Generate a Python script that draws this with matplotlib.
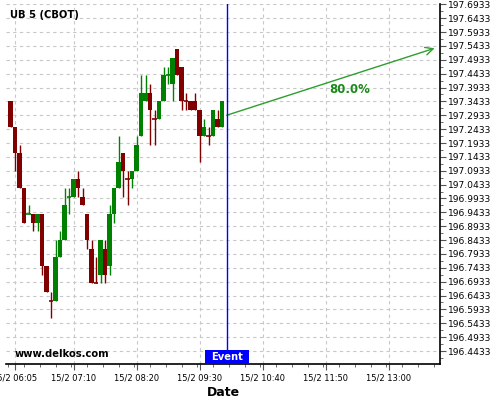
import matplotlib
matplotlib.use("Agg")
import matplotlib.pyplot as plt
import matplotlib.dates as mdates
from matplotlib.patches import Rectangle
import pandas as pd

# 5 minute candles, 15/2 06:00 .. 09:55
times = pd.date_range("2024-02-15 06:00", periods=48, freq="5min")
opens = [197.34375, 197.25, 197.15625, 197.03125, 196.9375, 196.9375, 196.90625, 196.9375,
         196.75, 196.625, 196.625, 196.78125, 196.84375, 197.0, 197.0, 197.0625,
         197.0, 196.9375, 196.8125, 196.6875, 196.71875, 196.8125, 196.75, 196.9375,
         197.03125, 197.15625, 197.0625, 197.0625, 197.09375, 197.21875, 197.34375, 197.375,
         197.28125, 197.28125, 197.34375, 197.4375, 197.40625, 197.53125, 197.46875, 197.34375,
         197.34375, 197.34375, 197.3125, 197.21875, 197.21875, 197.21875, 197.28125, 197.25]
highs = [197.34375, 197.25, 197.1875, 197.03125, 196.96875, 196.9375, 196.9375, 196.9375,
         196.75, 196.65625, 196.84375, 196.875, 197.03125, 197.03125, 197.0625, 197.09375,
         197.03125, 196.9375, 196.84375, 196.78125, 196.84375, 196.84375, 196.96875, 197.03125,
         197.21875, 197.15625, 197.09375, 197.09375, 197.21875, 197.4375, 197.4375, 197.40625,
         197.3125, 197.34375, 197.46875, 197.46875, 197.5, 197.53125, 197.46875, 197.375,
         197.34375, 197.375, 197.3125, 197.28125, 197.25, 197.3125, 197.3125, 197.34375]
lows = [197.25, 197.09375, 197.03125, 196.90625, 196.9375, 196.875, 196.875, 196.71875,
        196.65625, 196.5625, 196.625, 196.78125, 196.84375, 196.9375, 197.0, 197.0,
        196.96875, 196.8125, 196.6875, 196.6875, 196.6875, 196.6875, 196.71875, 196.90625,
        197.03125, 197.0, 196.96875, 197.03125, 197.09375, 197.21875, 197.34375, 197.1875,
        197.1875, 197.28125, 197.34375, 197.40625, 197.34375, 197.4375, 197.3125, 197.3125,
        197.3125, 197.3125, 197.125, 197.21875, 197.1875, 197.21875, 197.25, 197.25]
closes = [197.25, 197.15625, 197.03125, 196.90625, 196.9375, 196.90625, 196.9375, 196.75,
          196.65625, 196.625, 196.78125, 196.84375, 196.96875, 197.0, 197.0625, 197.03125,
          196.96875, 196.84375, 196.6875, 196.6875, 196.84375, 196.71875, 196.9375, 197.03125,
          197.125, 197.09375, 197.0625, 197.09375, 197.1875, 197.375, 197.375, 197.3125,
          197.28125, 197.34375, 197.4375, 197.4375, 197.5, 197.4375, 197.34375, 197.34375,
          197.3125, 197.3125, 197.21875, 197.25, 197.21875, 197.3125, 197.25, 197.34375]
green_dojis = [4, 13, 35]

event_time = pd.Timestamp("2024-02-15 10:00")
arrow_start = (event_time, 197.2933)
arrow_end = (pd.Timestamp("2024-02-15 13:51"), 197.535)
prob_label = "80.0%"
prob_pos = (pd.Timestamp("2024-02-15 12:17"), 197.388)

ytick_vals = [196.4433 + 0.05 * k for k in range(26)]
xtick_times = ["06:05", "07:10", "08:20", "09:30", "10:40", "11:50", "13:00"]

up_col = "#008000"
down_col = "#800000"

fig = plt.figure(figsize=(5, 4), dpi=100)
ax = fig.add_axes([0.012, 0.09, 0.868, 0.9])

x = mdates.date2num(times)
w = 4.8 / 1440
for i, (xi, o, h, l, c) in enumerate(zip(x, opens, highs, lows, closes)):
    if c == o:
        col = up_col if i in green_dojis else down_col
    else:
        col = up_col if c > o else down_col
    ax.vlines(xi, l, h, color=col, lw=1, zorder=3)
    if c == o:
        ax.hlines(o, xi - w / 2, xi + w / 2, color=col, lw=1.2, zorder=3)
    else:
        ax.bar(xi, abs(c - o), bottom=min(o, c), width=w, color=col,
               edgecolor=col, lw=0, zorder=4)

ev = mdates.date2num(event_time)
ax.axvline(ev, color="#0000ff", lw=1, zorder=6)

ax.annotate("", xy=(mdates.date2num(arrow_end[0]), arrow_end[1]),
            xytext=(mdates.date2num(arrow_start[0]), arrow_start[1]),
            arrowprops=dict(arrowstyle="->", color="#2e9e2e", lw=1,
                            shrinkA=0, shrinkB=0, mutation_scale=14))
ax.text(mdates.date2num(prob_pos[0]), prob_pos[1], prob_label, color="#1a8a1a",
        fontsize=8.5, fontweight="bold", ha="center", va="center")

xt = mdates.date2num([pd.Timestamp("2024-02-15 " + t) for t in xtick_times])
ax.set_xticks(xt)
ax.set_xticklabels(["15/2 " + t for t in xtick_times], fontsize=6)
minor_x = mdates.date2num(pd.date_range("2024-02-15 05:57:30", periods=28, freq="17.5min"))
ax.set_xticks(minor_x, minor=True)

ax.yaxis.tick_right()
ax.set_yticks(ytick_vals)
ax.set_yticklabels(["%.4f" % v for v in ytick_vals], fontsize=6.6)
ax.set_yticks([v - 0.025 for v in ytick_vals], minor=True)

ax.set_xlim(mdates.date2num(pd.Timestamp("2024-02-15 05:55")),
            mdates.date2num(pd.Timestamp("2024-02-15 13:57")))
ax.set_ylim(196.3965, 197.6945)

ax.tick_params(axis="both", which="major", length=4, width=0.8, color="#555555")
ax.tick_params(axis="both", which="minor", length=2, width=0.6, color="#555555")
ax.tick_params(axis="x", pad=3)
ax.tick_params(axis="y", pad=2)

ax.grid(True, which="major", color="#c8c8c8", linestyle=(0, (3, 3)), lw=0.8)
ax.set_axisbelow(True)

for s in ("top", "left"):
    ax.spines[s].set_visible(False)
ax.spines["bottom"].set_linewidth(1.2)
ax.spines["right"].set_linewidth(1.2)

ax.text(0.01, 0.97, "UB 5 (CBOT)", transform=ax.transAxes, fontsize=7.2,
        fontweight="bold", ha="left", va="center")
ax.text(0.02, 0.028, "www.delkos.com", transform=ax.transAxes, fontsize=7.2,
        fontweight="bold", ha="left", va="center")

# blue "Event" tag sitting on the x axis
half = 24.4 / 1440
ax.add_patch(Rectangle((ev - half, 0), 2 * half, 0.039, transform=ax.get_xaxis_transform(),
                       fc="#0000ff", ec="none", zorder=7, clip_on=False))
ax.text(ev, 0.0195, "Event", transform=ax.get_xaxis_transform(), fontsize=7.2,
        fontweight="bold", color="white", ha="center", va="center", zorder=8)

ax.set_xlabel("Date", fontsize=9, fontweight="bold", labelpad=2)

fig.savefig("out.png", dpi=100)
